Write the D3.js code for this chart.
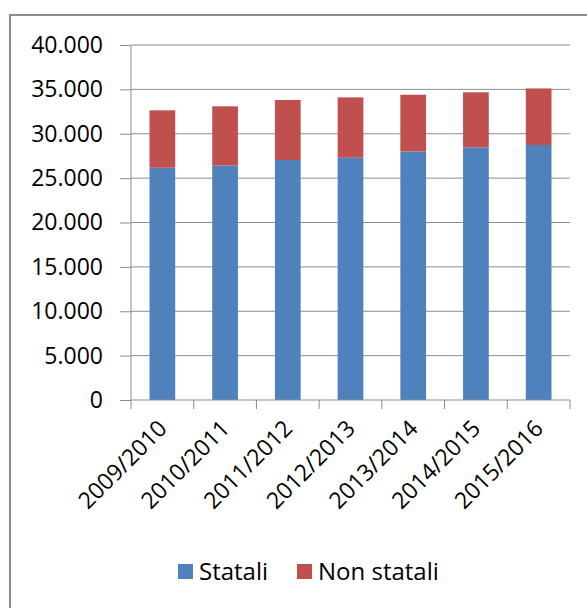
<!DOCTYPE html>
<html>
<head>
<meta charset="utf-8">
<script src="https://cdn.jsdelivr.net/npm/d3@7"></script>
<style>
  body { margin: 0; background: #fff; }
  text { font-family: 'Open Sans', sans-serif; fill: #000; }
</style>
</head>
<body>
<div class="canvas"></div>
<script>
const years = ['2009/2010', '2010/2011', '2011/2012', '2012/2013', '2013/2014', '2014/2015', '2015/2016'];
const statali = [26170, 26440, 27040, 27300, 28000, 28470, 28730];
const nonStatali = [6470, 6650, 6760, 6800, 6400, 6200, 6370];
const yTicks = [0, 5000, 10000, 15000, 20000, 25000, 30000, 35000, 40000];
const seriesNames = ['Statali', 'Non statali'];
const colors = ['#4f81bd', '#c0504d'];

const canvasWidth = 587;
const canvasHeight = 608;
const margin = { top: 45, left: 131, bottom: 208, right: 17 };
const graphWidth = canvasWidth - margin.left - margin.right;
const graphHeight = canvasHeight - margin.top - margin.bottom;

const svg = d3.select('.canvas')
  .append('svg')
  .attr('width', canvasWidth)
  .attr('height', canvasHeight);

// chart frame (only left and top edges visible)
svg.append('path')
  .attr('d', `M10,${canvasHeight} L10,15 L${canvasWidth},15`)
  .attr('fill', 'none')
  .attr('stroke', '#8c8c8c')
  .attr('stroke-width', 2);

const graph = svg.append('g')
  .attr('transform', `translate(${margin.left},${margin.top})`);

const x = d3.scaleBand()
  .domain(years)
  .range([0, graphWidth])
  .paddingInner(0.59)
  .paddingOuter(0.295);

const y = d3.scaleLinear()
  .domain([0, 40000])
  .range([graphHeight, 0]);

// gridlines
graph.selectAll('line.grid')
  .data(yTicks.slice(1))
  .enter()
  .append('line')
  .attr('class', 'grid')
  .attr('x1', 0)
  .attr('x2', graphWidth)
  .attr('y1', d => y(d))
  .attr('y2', d => y(d))
  .attr('stroke', '#8c8c8c')
  .attr('stroke-width', 1);

const data = years.map((yr, i) => ({ year: yr, statali: statali[i], nonStatali: nonStatali[i] }));
const stack = d3.stack().keys(['statali', 'nonStatali'])(data);

graph.selectAll('g.series')
  .data(stack)
  .enter()
  .append('g')
  .attr('fill', (d, i) => colors[i])
  .selectAll('rect')
  .data(d => d)
  .enter()
  .append('rect')
  .attr('x', d => x(d.data.year))
  .attr('width', x.bandwidth())
  .attr('y', d => y(d[1]))
  .attr('height', d => y(d[0]) - y(d[1]));

// y axis
const yAxis = d3.axisLeft(y)
  .tickValues(yTicks)
  .tickSize(11)
  .tickPadding(17)
  .tickFormat(d => d3.format(',')(d).replace(/,/g, '.'));
const yAxisGroup = graph.append('g').call(yAxis);
yAxisGroup.select('.domain').attr('stroke', '#8c8c8c').attr('d', `M0,0 V${graphHeight}`);
yAxisGroup.selectAll('line').attr('stroke', '#8c8c8c');
yAxisGroup.selectAll('text')
  .attr('font-size', '23px')
  .attr('font-family', "'Open Sans', sans-serif");

// x axis with ticks at category boundaries
const xAxisGroup = graph.append('g')
  .attr('transform', `translate(0,${graphHeight})`);
xAxisGroup.append('line')
  .attr('x1', 0).attr('x2', graphWidth)
  .attr('stroke', '#8c8c8c');
const step = x.step();
xAxisGroup.selectAll('line.tick')
  .data(d3.range(years.length + 1))
  .enter()
  .append('line')
  .attr('x1', i => i * step)
  .attr('x2', i => i * step)
  .attr('y1', 0)
  .attr('y2', 9)
  .attr('stroke', '#8c8c8c');

xAxisGroup.selectAll('text')
  .data(years)
  .enter()
  .append('text')
  .attr('transform', d => `translate(${x(d) + x.bandwidth() / 2 + 6},${30}) rotate(-45)`)
  .attr('text-anchor', 'end')
  .attr('font-size', '23px')
  .text(d => d);

// legend
const legend = svg.append('g')
  .attr('transform', 'translate(178,564)');
const legendX = [0, 119];
seriesNames.forEach((name, i) => {
  legend.append('rect')
    .attr('x', legendX[i])
    .attr('y', 0)
    .attr('width', 15)
    .attr('height', 15)
    .attr('fill', colors[i]);
  legend.append('text')
    .attr('x', legendX[i] + 21)
    .attr('y', 16)
    .attr('font-size', '24px')
    .text(name);
});
</script>
</body>
</html>
